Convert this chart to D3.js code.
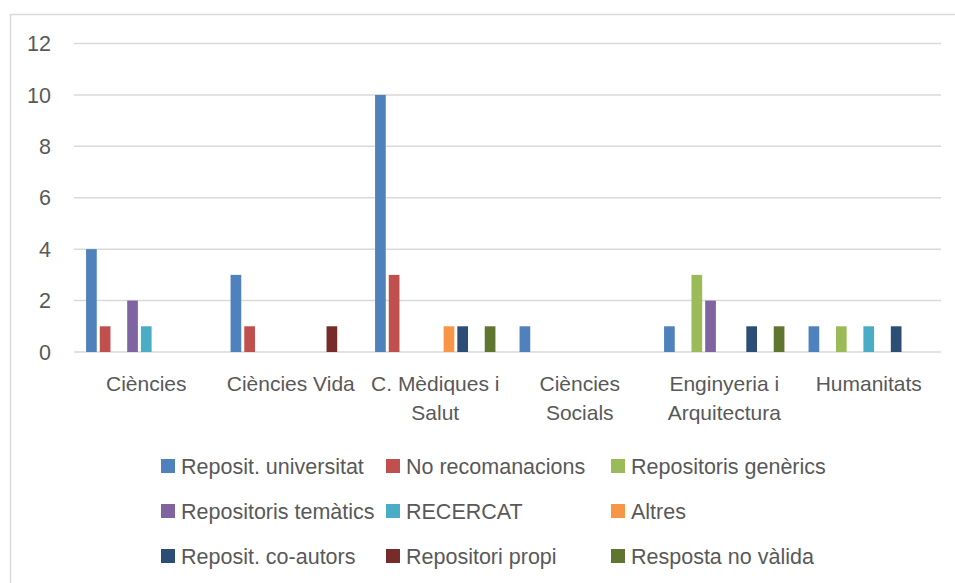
<!DOCTYPE html>
<html>
<head>
<meta charset="utf-8">
<script src="https://cdn.jsdelivr.net/npm/d3@7"></script>
<style>
  body { margin: 0; background: #fff; }
  svg text { font-family: "Liberation Sans", Arial, sans-serif; fill: #595959; }
</style>
</head>
<body>
<svg width="955" height="583"></svg>
<script>
var categories = ["Ciències", "Ciències Vida", "C. Mèdiques i Salut", "Ciències Socials", "Enginyeria i Arquitectura", "Humanitats"];

var seriesNames = ["Reposit. universitat", "No recomanacions", "Repositoris genèrics",
  "Repositoris temàtics", "RECERCAT", "Altres",
  "Reposit. co-autors", "Repositori propi", "Resposta no vàlida"];

var seriesColors = ["#4f81bd", "#c0504d", "#9bbb59", "#8064a2", "#4bacc6", "#f79646", "#2c4d75", "#772c2a", "#5f7530"];

// one array per series, values per category
var reposUniv    = [4, 3, 10, 1, 1, 1];
var noRecom      = [1, 1, 3, 0, 0, 0];
var reposGeneric = [0, 0, 0, 0, 3, 1];
var reposTematic = [2, 0, 0, 0, 2, 0];
var recercat     = [1, 0, 0, 0, 0, 1];
var altres       = [0, 0, 1, 0, 0, 0];
var reposCoaut   = [0, 0, 1, 0, 1, 1];
var reposPropi   = [0, 1, 0, 0, 0, 0];
var noValida     = [0, 0, 1, 0, 1, 0];

var seriesValues = [reposUniv, noRecom, reposGeneric, reposTematic, recercat, altres, reposCoaut, reposPropi, noValida];

var yTicks = [0, 2, 4, 6, 8, 10, 12];

var svg = d3.select("svg");

// chart frame (right and bottom edges run off the picture)
svg.append("rect")
    .attr("x", 10.5).attr("y", 14.5)
    .attr("width", 1000).attr("height", 1000)
    .attr("fill", "none")
    .attr("stroke", "#d9d9d9")
    .attr("stroke-width", 1.5);

var x0 = d3.scaleBand().domain(categories).range([74, 941]).padding(0);
var x1 = d3.scaleBand().domain(d3.range(seriesNames.length))
    .range([0, x0.bandwidth()]).paddingInner(0.22).paddingOuter(0.88);
var y = d3.scaleLinear().domain([0, 12]).range([352, 43.5]);

// gridlines
svg.append("g").selectAll("line")
  .data(yTicks)
  .enter().append("line")
    .attr("x1", 74).attr("x2", 941)
    .attr("y1", function(d) { return y(d); })
    .attr("y2", function(d) { return y(d); })
    .attr("stroke", "#d9d9d9")
    .attr("stroke-width", 1.5);

// y labels
svg.append("g").selectAll("text")
  .data(yTicks)
  .enter().append("text")
    .attr("x", 51)
    .attr("y", function(d) { return y(d); })
    .attr("dy", "0.36em")
    .attr("text-anchor", "end")
    .style("font-size", "21.5px")
    .text(function(d) { return d; });

// bars
var bars = [];
seriesValues.forEach(function(vals, s) {
  vals.forEach(function(v, c) {
    if (v > 0) bars.push({ s: s, c: categories[c], v: v });
  });
});

svg.append("g").selectAll("rect")
  .data(bars)
  .enter().append("rect")
    .attr("x", function(d) { return x0(d.c) + x1(d.s); })
    .attr("width", x1.bandwidth())
    .attr("y", function(d) { return y(d.v); })
    .attr("height", function(d) { return y(0) - y(d.v); })
    .attr("fill", function(d) { return seriesColors[d.s]; });

// category labels, wrapped to the band width
var catG = svg.append("g");
categories.forEach(function(cat) {
  var cx = x0(cat) + x0.bandwidth() / 2;
  var t = catG.append("text")
      .attr("x", cx)
      .attr("y", 391)
      .attr("text-anchor", "middle")
      .style("font-size", "21px");
  var words = cat.split(" "), line = [];
  var tspan = t.append("tspan").attr("x", cx).attr("dy", 0);
  words.forEach(function(w) {
    line.push(w);
    tspan.text(line.join(" "));
    if (tspan.node().getComputedTextLength() > x0.bandwidth() - 4 && line.length > 1) {
      line.pop();
      tspan.text(line.join(" "));
      line = [w];
      tspan = t.append("tspan").attr("x", cx).attr("dy", 29).text(w);
    }
  });
});

// legend: 3 columns x 3 rows
var legCols = [161, 386, 611];
var legRows = [466, 511, 556];
var leg = svg.append("g").selectAll("g")
  .data(seriesNames)
  .enter().append("g")
    .attr("transform", function(d, i) {
      return "translate(" + legCols[i % 3] + "," + legRows[Math.floor(i / 3)] + ")";
    });

leg.append("rect")
    .attr("x", 0).attr("y", -7)
    .attr("width", 14).attr("height", 14)
    .attr("fill", function(d, i) { return seriesColors[i]; });

leg.append("text")
    .attr("x", 20)
    .attr("y", 0)
    .attr("dy", "0.36em")
    .style("font-size", "21.5px")
    .text(function(d) { return d; });
</script>
</body>
</html>
